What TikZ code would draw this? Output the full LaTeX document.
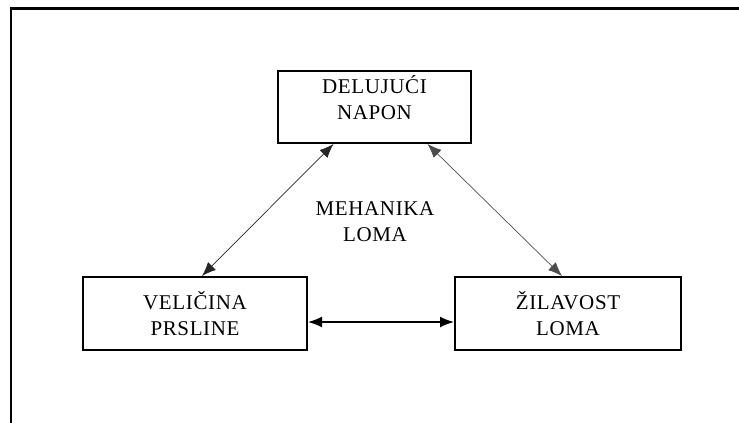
\documentclass[tikz,border=0pt]{standalone}
\usepackage{fontspec}
\setmainfont[LetterSpace=3]{Liberation Serif}
\usetikzlibrary{arrows.meta}
\tikzset{
  blok/.style={draw, line width=2pt, align=center, inner sep=0pt},
  tip/.style={{Latex[length=14pt,width=11pt]}-{Latex[length=14pt,width=11pt]}}
}
\begin{document}
\begin{tikzpicture}[x=1pt,y=-1pt,font=\fontsize{21}{26}\selectfont]
    \useasboundingbox (0,0) rectangle (739,423);
    \draw[line width=2.4pt] (11,423) -- (11,8.5) -- (739,8.5);
    \node[blok, minimum width=193, minimum height=72] (napon) at (374.5,107) {DELUJUĆI\\NAPON\\[-6pt]};
    \node[blok, minimum width=224, minimum height=73] (prslina) at (195,313.5) {VELIČINA\\PRSLINE};
    \node[blok, minimum width=226, minimum height=73] (zilavost) at (568,313.5) {ŽILAVOST\\LOMA};
    \node[align=center] (meh) at (375,222) {MEHANIKA\\LOMA};
    \draw[tip, line width=0.7pt, black!85] ([xshift=-41]napon.south) -- ([xshift=7]prslina.north);
    \draw[tip, line width=0.7pt, black!70] ([xshift=53]napon.south) -- ([xshift=-6]zilavost.north);
    \draw[tip, line width=1.6pt] ([yshift=-8.5]prslina.east) -- ([yshift=-8.5]zilavost.west);
  \end{tikzpicture}
\end{document}
